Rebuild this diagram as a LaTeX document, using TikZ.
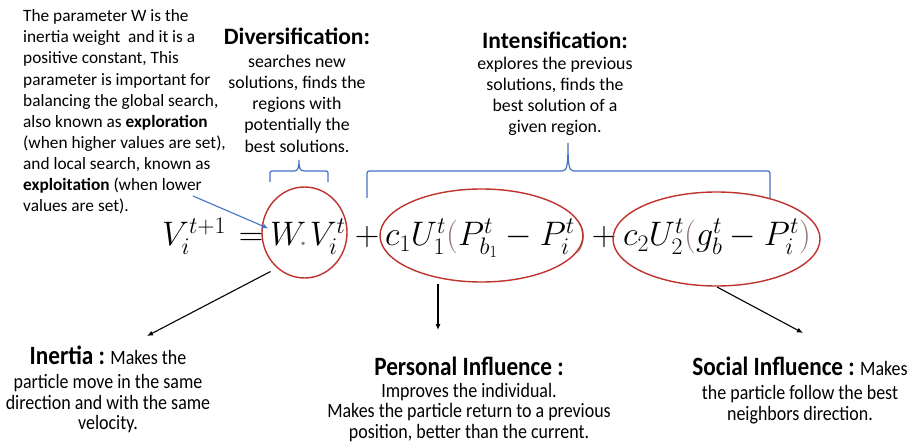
\RequirePackage{fix-cm}
\documentclass[tikz,border=0pt]{standalone}
\usepackage{fontspec}
\setmainfont{Carlito}
\newfontfamily\condfont[FakeStretch=0.88]{Carlito}
\usetikzlibrary{shapes.geometric,arrows.meta,calc}
\definecolor{ellred}{RGB}{192,50,45}
\definecolor{braceblue}{RGB}{68,114,196}
\definecolor{parc}{RGB}{140,120,115}
\begin{document}
\begin{tikzpicture}[x=1pt,y=-1pt,
  eqpart/.style={inner sep=0pt, anchor=base west, font=\fontsize{34}{40}\selectfont},
  eqsym/.style={inner sep=0pt, anchor=base, font=\fontsize{34}{40}\selectfont},
  oval/.style={ellipse, draw=ellred, line width=1.4pt, inner sep=0pt},
  brace/.style={draw=braceblue, line width=1.2pt},
  arr/.style={draw=black, line width=1.1pt, -{Latex[length=6pt,width=5pt]}},
  barr/.style={draw=braceblue, line width=1.1pt, -{Latex[length=6pt,width=5pt]}},
  toptitle/.style={inner sep=0pt, anchor=north, font=\bfseries\fontsize{23.5}{28}\selectfont},
  topbody/.style={inner sep=0pt, anchor=north, align=center, font=\fontsize{17.8}{21.3}\selectfont},
  botbody/.style={inner sep=0pt, anchor=north, align=center, font=\condfont\fontsize{20.4}{20.5}\selectfont},
  bottitle/.style={inner sep=0pt, anchor=north, font=\condfont\bfseries\fontsize{26.4}{30}\selectfont}
]
\useasboundingbox[fill=white] (0,0) rectangle (912,443);

% left explanatory text
\node[inner sep=0pt, anchor=north west, align=left, font=\fontsize{17.3}{21.1}\selectfont] (wtext) at (23,9.5)
{The parameter W is the\\
inertia weight\ \ and it is a\\
positive constant, This\\
parameter is important for\\
balancing the global search,\\
also known as \textbf{exploration}\\
(when higher values are set),\\
and local search, known as\\
\textbf{exploitation} (when lower\\
values are set).};

% top labels
\node[toptitle] (divt) at (297,27.5) {Diversification:};
\node[topbody] (divb) at (297,54.5) {searches new\\solutions, finds the\\regions with\\potentially the\\best solutions.};
\node[toptitle] (intt) at (555,31.5) {Intensification:};
\node[topbody] (intb) at (555,56.5) {explores the previous\\solutions, finds the\\best solution of a\\given region.};

% braces
\draw[brace] (270,182) -- (270,175) .. controls (270,171) .. (274,171) -- (294,171)
  .. controls (298,171) and (299,168) .. (299,160)
  .. controls (299,168) and (300,171) .. (304,171) -- (324,171)
  .. controls (328,171) .. (328,175) -- (328,182);
\draw[brace] (367,198) -- (367,176) .. controls (367,171) .. (372,171) -- (562,171)
  .. controls (567,171) and (568,166) .. (568,143)
  .. controls (568,166) and (569,171) .. (574,171) -- (765,171)
  .. controls (770,171) .. (770,176) -- (770,198);

% equation
\node[eqpart] (lhs) at (162,246) {$V_i^{t+1}$};
\node[eqsym] (eqs) at (251,246) {$=$};
\node[eqpart] (p1) at (270,246) {$W\mkern-4mu{\color{parc}.}\mkern1mu V_i^t$};
\node[eqsym] (plus1) at (367,246) {$+$};
\node[eqpart] (p2) at (385,246) {$c_1U_1^t{\color{parc}\bigl(}P_{b_1}^t-P_i^t{\color{parc}\bigr)}$};
\node[eqsym] (plus2) at (604,246) {$+$};
\node[eqpart] (p3) at (623,246) {$c_2U_2^t{\color{parc}\bigl(}g_b^t-P_i^t{\color{parc}\bigr)}$};

% ellipses
\node[oval, minimum width=85pt, minimum height=91pt] (e1) at (304.5,232.5) {};
\node[oval, minimum width=203pt, minimum height=93pt] (e2) at (481.5,235.5) {};
\node[oval, minimum width=207pt, minimum height=94pt] (e3) at (716.5,239) {};

% bottom texts
\node[inner sep=0pt, anchor=north, align=center, font=\condfont\fontsize{20.4}{20.5}\selectfont] (inertia) at (108,346)
{{\bfseries\fontsize{26.4}{30}\selectfont Inertia :} Makes the\\[3.5pt]
particle move in the same\\
direction and with the same\\
velocity.};
\node[bottitle] (perst) at (469,357) {Personal Influence :};
\node[botbody] (persb) at (469,383) {Improves the individual.\\
Makes the particle return to a previous\\
position, better than the current.};
\node[inner sep=0pt, anchor=north, align=center, font=\condfont\fontsize{20.4}{20.5}\selectfont] (social) at (800,357)
{{\bfseries\fontsize{26.4}{30}\selectfont Social Influence :} Makes\\[3.5pt]
the particle follow the best\\
neighbors direction.};

% arrows
\coordinate (b0) at (193,196);
\coordinate (a1) at (147,336);
\coordinate (a2) at (438,330);
\coordinate (a3) at (803,333);
\draw[barr] (b0) -- ($(e1.center)+(-36,-4)$);
\draw[arr] ($(e1.center)+(-34,39)$) -- (a1);
\draw[arr] ($(e2.center)+(-43.5,48.5)$) -- (a2);
\draw[arr] ($(e3.center)+(0.5,48)$) -- (a3);
\end{tikzpicture}
\end{document}
